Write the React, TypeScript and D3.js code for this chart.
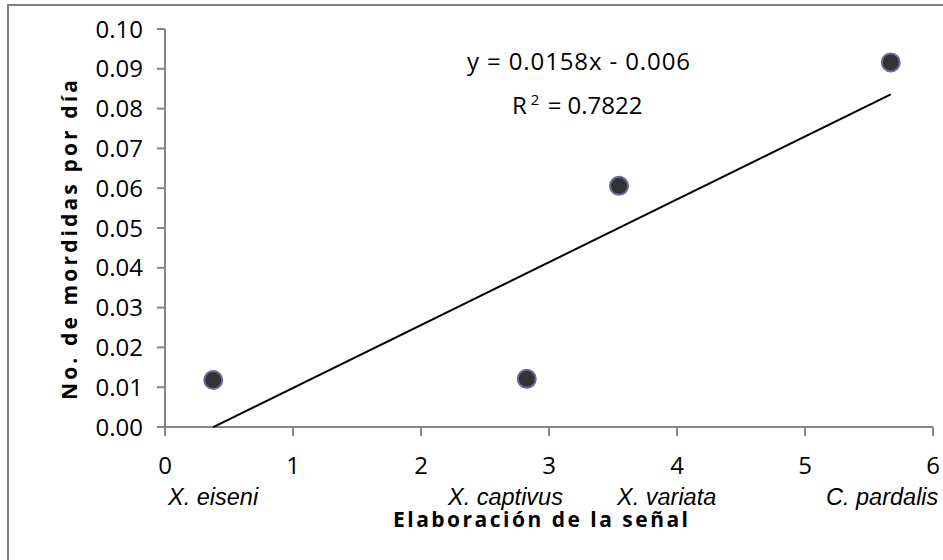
import React from "react";
import * as d3 from "d3";

const pointX = [0.377, 2.826, 3.547, 5.67];
const pointY = [0.0118, 0.0121, 0.0606, 0.0916];
const speciesNames = ["X. eiseni", "X. captivus", "X. variata", "C. pardalis"];
const xTicks = [0, 1, 2, 3, 4, 5, 6];
const yTicks = [0, 0.01, 0.02, 0.03, 0.04, 0.05, 0.06, 0.07, 0.08, 0.09, 0.1];
const slope = 0.0158;
const intercept = -0.006;
const equationText = "y = 0.0158x - 0.006";
const rSquaredValue = "0.7822";
const xTitle = "Elaboración de la señal";
const yTitle = "No. de mordidas por día";

// layout (pixels) for species labels, left starts
const speciesLabelLeft = [168, 448, 617, 826];

export default function App() {
  const W = 943, H = 560;
  const x = d3.scaleLinear().domain([0, 6]).range([165, 933]);
  const y = d3.scaleLinear().domain([0, 0.1]).range([427, 29]);
  const axisColor = "#868686";
  const sans = "'Open Sans', 'Noto Sans', sans-serif";
  const arial = "'Liberation Sans', Arial, sans-serif";

  const x0 = d3.min(pointX) as number;
  const x1 = d3.max(pointX) as number;
  const line = d3.line<number>().x((d) => x(d)).y((d) => y(slope * d + intercept));

  return (
    <svg width={W} height={H} style={{ position: "absolute", left: 0, top: 0, background: "#fff" }}>
      <rect x={0} y={0} width={W} height={H} fill="#fff" />
      <path d={`M${8},${H + 5} L${8},${5} L${W + 5},${5}`} fill="none" stroke="#808080" strokeWidth={2} />

      {/* y axis */}
      <line x1={x(0)} x2={x(0)} y1={y(0)} y2={y(0.1)} stroke={axisColor} strokeWidth={2} />
      {yTicks.map((t) => (
        <g key={"y" + t}>
          <line x1={x(0) - 8} x2={x(0)} y1={y(t)} y2={y(t)} stroke={axisColor} strokeWidth={2} />
          <text x={143} y={y(t) + 8.5} textAnchor="end" fontFamily={sans} fontSize={24} fill="#000">
            {d3.format(".2f")(t)}
          </text>
        </g>
      ))}

      {/* x axis */}
      <line x1={x(0)} x2={x(6)} y1={y(0)} y2={y(0)} stroke={axisColor} strokeWidth={2} />
      {xTicks.map((t) => (
        <g key={"x" + t}>
          <line x1={x(t)} x2={x(t)} y1={y(0)} y2={y(0) + 9} stroke={axisColor} strokeWidth={2} />
          <text x={x(t)} y={474} textAnchor="middle" fontFamily={sans} fontSize={24} fill="#000">
            {t}
          </text>
        </g>
      ))}

      {speciesNames.map((s, i) => (
        <text key={s} x={speciesLabelLeft[i]} y={505} fontFamily={arial} fontStyle="italic" fontSize={23.5} fill="#000">
          {s}
        </text>
      ))}

      <text x={393} y={527} fontFamily={sans} fontWeight="bold" fontSize={21} textLength={295} lengthAdjust="spacing" fill="#000">
        {xTitle}
      </text>
      <text
        transform={`translate(77,400) rotate(-90)`}
        fontFamily={sans}
        fontWeight="bold"
        fontSize={21}
        textLength={320}
        lengthAdjust="spacing"
        fill="#000"
      >
        {yTitle}
      </text>

      {/* trendline */}
      <path d={line([x0, x1]) || ""} fill="none" stroke="#000" strokeWidth={2} />

      {pointX.map((px, i) => (
        <circle key={i} cx={x(px)} cy={y(pointY[i])} r={9} fill="#333333" stroke="#6a6aa8" strokeWidth={2} />
      ))}

      <text x={467} y={70} fontFamily={sans} fontSize={24} textLength={223} lengthAdjust="spacing" fill="#000">
        {equationText}
      </text>
      <text x={512} y={114} fontFamily={sans} fontSize={24} fill="#000">
        <tspan>R</tspan>
        <tspan dx={4} dy={-9} fontSize={15}>2</tspan>
        <tspan dx={2} dy={9}>{" =  " + rSquaredValue}</tspan>
      </text>
    </svg>
  );
}
